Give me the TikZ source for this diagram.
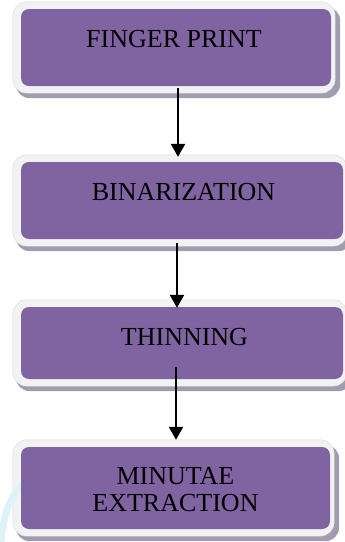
\documentclass[tikz,border=0pt]{standalone}
\usepackage{fontspec}
\setmainfont{Liberation Serif}
\usetikzlibrary{arrows.meta,backgrounds}
\definecolor{boxpurple}{HTML}{8064A2}
\definecolor{rimc}{HTML}{F2F2F2}
\definecolor{shadowc}{HTML}{A19DAE}
\definecolor{swooshc}{HTML}{DDF3F8}
\tikzset{
  purplebox/.style={rectangle, rounded corners=8pt, fill=boxpurple, inner sep=0pt},
  steptext/.style={anchor=base, align=center, inner sep=0pt, font=\fontsize{26}{27}\selectfont},
  flowarrow/.style={-{Triangle[width=14pt,length=13pt]}, line width=2.4pt, black},
  rimfill/.style={fill=rimc, draw=gray!30, line width=0.4pt, rounded corners=14pt},
  shadowfill/.style={fill=shadowc, rounded corners=14pt}
}
\begin{document}
\begin{tikzpicture}[x=1pt,y=-1pt]
\useasboundingbox (0,0) rectangle (345,542);
% faint background swoosh
\draw[swooshc, line width=7pt] (1,542) .. controls (3,518) and (8,500) .. (22,485);
% boxes
\node[purplebox, minimum width=310pt, minimum height=77pt] (b1) at (176,47.5) {};
\node[purplebox, minimum width=322pt, minimum height=77pt] (b2) at (182,200.5) {};
\node[purplebox, minimum width=322pt, minimum height=72pt] (b3) at (182,343) {};
\node[purplebox, minimum width=309pt, minimum height=82pt] (b4) at (175.5,488) {};
\begin{scope}[on background layer]
  \foreach \b in {b1,b2,b3,b4}{
    \fill[shadowfill] ([shift={(-5,-2)}]\b.north west) rectangle ([shift={(9,12)}]\b.south east);
    \path[rimfill] ([shift={(-8,-7)}]\b.north west) rectangle ([shift={(4,7)}]\b.south east);
  }
\end{scope}
% texts
\node[steptext] (t1) at (174,47.3) {FINGER PRINT};
\node[steptext] (t2) at (183.5,200.7) {BINARIZATION};
\node[steptext] (t3) at (184.5,345) {THINNING};
\node[steptext] (t4) at (175.5,511) {MINUTAE\\EXTRACTION};
% arrows
\draw[flowarrow] ([shift={(2,2)}]b1.south) -- ([shift={(-4,-5)}]b2.north);
\draw[flowarrow] ([shift={(-5,4)}]b2.south) -- ([shift={(-5,1)}]b3.north);
\draw[flowarrow] ([shift={(-6,-12)}]b3.south) -- ([shift={(0.5,-7)}]b4.north);
\end{tikzpicture}
\end{document}
